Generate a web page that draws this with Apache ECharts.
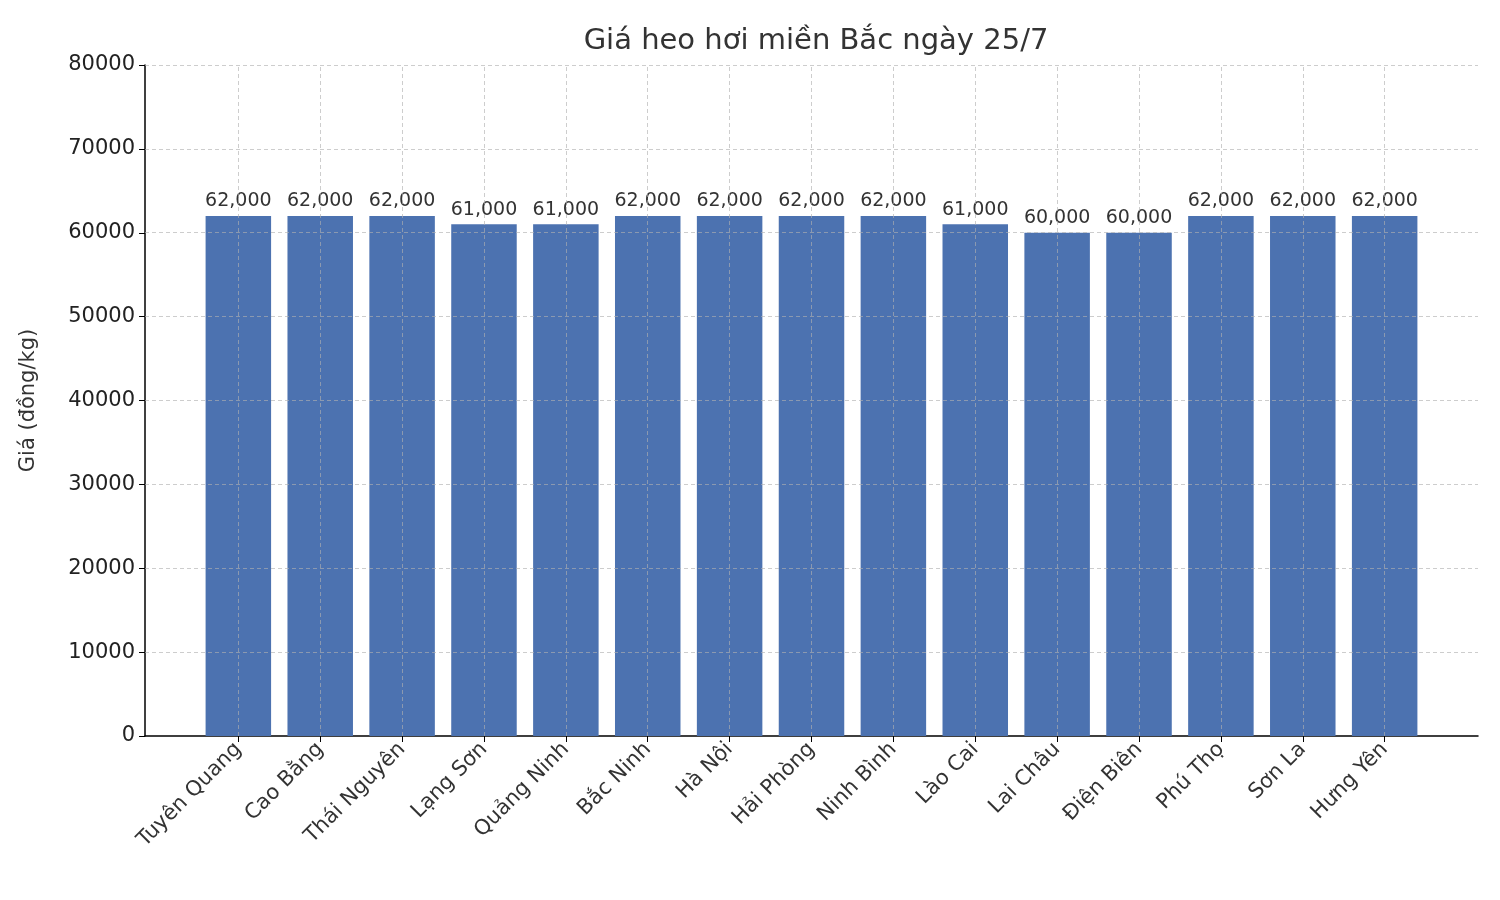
<!DOCTYPE html>
<html><head><meta charset="utf-8">
<script src="https://cdn.jsdelivr.net/npm/echarts@6/dist/echarts.min.js"></script>
<style>html,body{margin:0;padding:0;background:#fff}#c{width:1500px;height:900px}</style>
</head><body><div id="c"></div>
<script>
const categories = ["Tuyên Quang","Cao Bằng","Thái Nguyên","Lạng Sơn","Quảng Ninh","Bắc Ninh","Hà Nội","Hải Phòng","Ninh Bình","Lào Cai","Lai Châu","Điện Biên","Phú Thọ","Sơn La","Hưng Yên"];
const prices = [62000,62000,62000,61000,61000,62000,62000,62000,62000,61000,60000,60000,62000,62000,62000];
const yTicks = [0,10000,20000,30000,40000,50000,60000,70000,80000];
const idx = categories.map((_, i) => i);
const font = "DejaVu Sans";
const chart = echarts.init(document.getElementById('c'));
const gl = {color:'#b0b0b0', type:[4,3], width:0.8, opacity:0.8};
chart.setOption({
  animation:false,
  title:{text:'Giá heo hơi miền Bắc ngày 25/7', left:811, top:22, textAlign:'center',
    textStyle:{fontFamily:font, fontSize:29, fontWeight:'normal', color:'#333'}},
  grid:{left:145, right:22, top:65, bottom:164},
  xAxis:{type:'value', min:-1.14, max:15.14,
    axisLine:{show:true, onZero:false, lineStyle:{color:'#000', width:1.5}},
    axisTick:{show:true, customValues:idx, length:6, lineStyle:{color:'#000'}},
    axisLabel:{customValues:idx, rotate:45, fontFamily:font, fontSize:21, color:'#333', margin:10,
      formatter:v => categories[Math.round(v)]},
    splitLine:{show:false}},
  yAxis:{type:'value', min:0, max:80000, interval:10000,
    name:'Giá (đồng/kg)', nameLocation:'middle', nameGap:106,
    nameTextStyle:{fontFamily:font, fontSize:21, color:'#333'},
    axisLine:{show:true, onZero:false, lineStyle:{color:'#000', width:1.5}},
    axisTick:{show:true, length:6, lineStyle:{color:'#000'}},
    axisLabel:{fontFamily:font, fontSize:21, color:'#222', margin:10, formatter:v => String(v)},
    splitLine:{show:false}},
  series:[{type:'bar', data:prices.map((v,i)=>[i,v]), barWidth:65.5,
    itemStyle:{color:'#4c72b0'},
    label:{show:true, position:'top', distance:5, fontFamily:font, fontSize:19, color:'#333',
      formatter:p => p.value[1].toLocaleString('en-US')},
    markLine:{silent:true, symbol:'none', label:{show:false}, lineStyle:gl,
      data:[...idx.map(i=>({xAxis:i})), ...yTicks.slice(1).map(v=>({yAxis:v}))]}
  }]
});
</script></body></html>
